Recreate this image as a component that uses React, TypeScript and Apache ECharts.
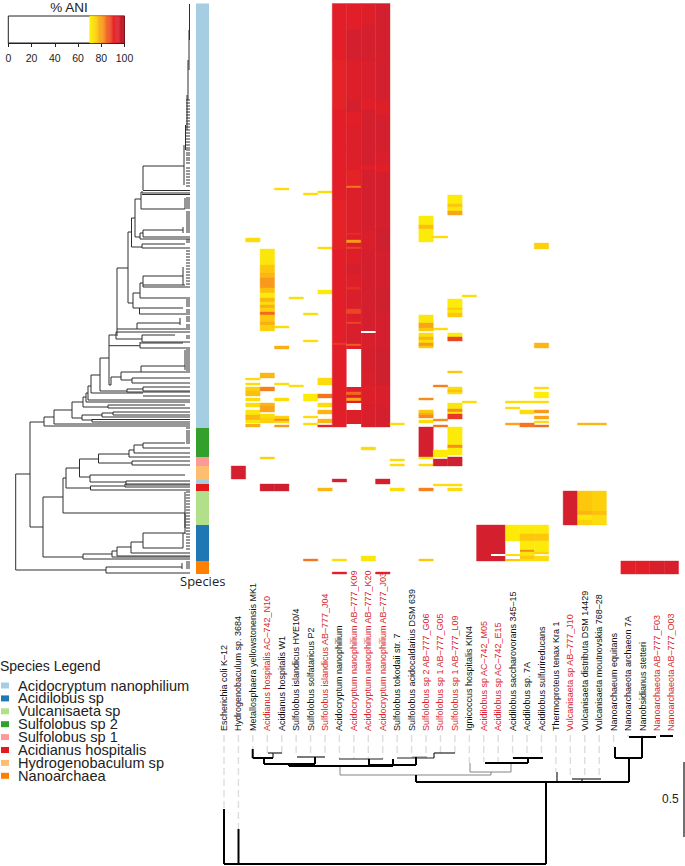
import React, { useEffect, useRef } from "react";
import * as echarts from "echarts";

const genomeNames = [
  "Escherichia coli K–12", "Hydrogenobaculum sp. 3684", "Metallosphaera yellowstonensis MK1",
  "Acidianus hospitalis AC–742_N10", "Acidianus hospitalis W1", "Sulfolobus islandicus HVE10/4",
  "Sulfolobus solfataricus P2", "Sulfolobus islandicus AB–777_J04", "Acidocryptum nanophilium",
  "Acidocryptum nanophilium AB–777_K09", "Acidocryptum nanophilium AB–777_K20", "Acidocryptum nanophilium AB–777_J03",
  "Sulfolobus tokodaii str. 7", "Sulfolobus acidocaldarius DSM 639", "Sulfolobus sp 2 AB–777_G06",
  "Sulfolobus sp 1 AB–777_G05", "Sulfolobus sp 1 AB–777_L09", "Ignicoccus hospitalis KIN4",
  "Acidilobus sp AC–742_M05", "Acidilobus sp AC–742_E15", "Acidilobus saccharovorans 345–15",
  "Acidilobus sp. 7A", "Acidilobus sulfurireducans", "Thermoproteus tenax Kra 1",
  "Vulcanisaeta sp AB–777_J10", "Vulcanisaeta distributa DSM 14429", "Vulcanisaeta moutnovskia 768–28",
  "Nanoarchaeum equitans", "Nanoarchaeota archaeon 7A", "Nanobsidianus stetteri",
  "Nanoarchaeota AB–777_F03", "Nanoarchaeota AB–777_O03",
];
const newGenomes = [3, 7, 9, 10, 11, 14, 15, 16, 18, 19, 24, 30, 31];

const speciesNames = ["Acidocryptum nanophilium", "Acidilobus sp", "Vulcanisaeta sp", "Sulfolobus sp 2", "Sulfolobus sp 1", "Acidianus hospitalis", "Hydrogenobaculum sp", "Nanoarchaea"];
const speciesColors = ["#a6cee3", "#1f78b4", "#b2df8a", "#33a02c", "#fb9a99", "#e31a1c", "#fdbf6f", "#ff7f00"];
const speciesRuns: [number, number][][] = [
  [[3.5, 428], [480, 484]], [[525, 561]], [[491, 525]], [[428, 457]], [[457, 466]], [[484, 491]], [[466, 480]], [[561, 574]],
];

const aniStops = [70, 73, 76, 80, 85, 90, 93, 97, 100];
const aniColors = ["#fff200", "#fbe60c", "#fdc70c", "#f9a51a", "#f26a21", "#e82c26", "#e21e28", "#cf2030", "#9e0b14"];
const keyLevels = [70, 71, 72, 73, 74, 75, 76, 77, 78, 79, 80, 81, 82, 83, 84, 85, 86, 87, 88, 89, 90, 91, 92, 93, 94, 95, 96, 97, 98, 99];
const keyTicks = [0, 20, 40, 60, 80, 100];

// ANI runs per genome column: [first row, last row, %ANI] (0 = below the cut-off, blank)
const col1 = [[466, 479, 96]];
const col2 = [[238, 242, 74], [378, 380, 74], [383, 385, 74], [387, 391, 75], [391, 396, 77], [398, 401, 74], [403, 407, 74], [410, 415, 73], [415, 420, 78], [420, 423, 73], [424, 427, 79]];
const col3 = [[249, 265, 73], [265, 273, 76], [273, 278, 78], [278, 288, 81], [288, 293, 77], [293, 298, 72], [298, 302, 78], [302, 305, 74], [305, 308, 79], [308, 312, 75], [312, 315, 85], [315, 322, 76], [322, 325, 79], [325, 331, 75], [373, 378, 78], [387, 391, 83], [403, 406, 78], [406, 412, 80], [414, 418, 74], [418, 423, 75], [457, 459, 75], [484, 491, 97]];
const col4 = [[188, 190, 74], [326, 328, 74], [346, 349, 79], [383, 385, 74], [398, 401, 74], [416, 419, 75], [419, 421, 82], [421, 423, 74], [425, 427, 81], [484, 491, 97]];
const col5 = [[297, 299, 74], [385, 387, 74]];
const col6 = [[193, 195, 74], [313, 315, 74], [340, 342, 74], [394, 401, 72], [416, 418, 74], [423, 425, 74], [559, 561, 84]];
const col7 = [[191, 193, 74], [247, 249, 74], [290, 294, 72], [378, 385, 74], [394, 398, 84], [403, 407, 74], [410, 414, 78], [419, 423, 78], [425, 427, 92], [488, 491, 78]];
const col8 = [[3.5, 60, 93], [60, 110, 92], [110, 150, 93], [150, 200, 93], [200, 250, 92], [250, 300, 93], [300, 343, 93], [343, 345, 89], [345, 427, 93], [479, 482, 96], [559, 561, 74], [572, 574, 93]];
const col9 = [[3.5, 30, 93], [30, 60, 96], [60, 100, 94], [100, 112, 96], [112, 125, 93], [125, 170, 94], [170, 186, 92], [186, 188, 84], [188, 233, 94], [233, 235, 90], [235, 240, 94], [240, 243, 81], [243, 247, 94], [247, 249, 88], [249, 265, 94], [265, 273, 96], [273, 287, 94], [287, 290, 90], [290, 309, 95], [309, 314, 88], [314, 322, 94], [322, 324, 88], [324, 344, 95], [344, 346, 86], [346, 349, 93], [349, 387, 0], [387, 392, 93], [392, 395, 85], [395, 398, 93], [398, 401, 80], [401, 403, 93], [403, 410, 0], [410, 424, 94], [424, 427, 0]];
const col10 = [[3.5, 25, 94], [25, 60, 96], [60, 100, 95], [100, 110, 93], [110, 165, 96], [165, 170, 93], [170, 230, 96], [230, 250, 95], [250, 331, 96], [331, 333, 0], [333, 350, 95], [350, 370, 96], [370, 385, 95], [385, 405, 94], [405, 427, 95], [447, 450, 74], [556, 561, 73]];
const col11 = [[3.5, 60, 96], [60, 100, 96], [100, 115, 94], [115, 150, 96], [150, 165, 95], [165, 172, 93], [172, 230, 96], [230, 250, 97], [250, 290, 96], [290, 310, 97], [310, 350, 96], [350, 385, 97], [385, 405, 95], [405, 427, 96], [479, 484, 96], [572, 574, 93]];
const col12 = [[423, 425, 74], [459, 461, 74], [464, 466, 74], [488, 491, 74]];
const col14 = [[216, 225, 72], [225, 229, 77], [229, 242, 72], [315, 323, 73], [323, 328, 80], [328, 331, 76], [333, 337, 74], [337, 340, 78], [340, 343, 74], [343, 346, 81], [346, 348, 76], [398, 400, 82], [410, 413, 76], [413, 415, 79], [415, 418, 82], [420, 423, 74], [427, 457, 96], [457, 459, 73], [464, 466, 74], [488, 491, 83], [559, 561, 76]];
const col15 = [[236, 238, 74], [328, 330, 74], [385, 387, 83], [419, 421, 82], [425, 427, 84], [450, 457, 72], [459, 466, 97], [484, 486, 74]];
const col16 = [[195, 204, 72], [204, 207, 76], [207, 211, 73], [211, 215, 80], [299, 308, 72], [308, 310, 76], [310, 313, 73], [313, 317, 76], [333, 337, 72], [337, 341, 88], [371, 373, 76], [387, 390, 74], [390, 392, 77], [392, 394, 74], [403, 409, 73], [409, 412, 82], [412, 414, 73], [414, 419, 89], [427, 445, 72], [445, 448, 82], [448, 455, 72], [457, 466, 97], [484, 486, 74], [488, 491, 74]];
const col17 = [[295, 297, 74], [401, 403, 74]];
const col18 = [[525, 561, 96]];
const col19 = [[525, 554, 96], [554, 556, 0], [556, 561, 96]];
const col20 = [[401, 403, 74], [407, 409, 74], [423, 425, 80], [525, 541, 72], [541, 554, 0], [554, 556, 74], [556, 559, 0], [559, 561, 76]];
const col21 = [[401, 403, 74], [410, 414, 74], [423, 427, 84], [525, 534, 72], [534, 541, 76], [541, 550, 72], [550, 552, 82], [552, 556, 73], [556, 559, 76], [559, 561, 74]];
const col22 = [[243, 249, 75], [343, 348, 78], [387, 389, 74], [392, 398, 71], [401, 403, 74], [410, 413, 81], [416, 419, 80], [421, 423, 74], [425, 427, 85], [525, 534, 72], [534, 541, 76], [541, 552, 72], [552, 554, 75], [556, 561, 74]];
const col24 = [[491, 525, 96]];
const col25 = [[423, 425, 78], [491, 511, 76], [511, 515, 78], [515, 520, 73], [520, 525, 75]];
const col26 = [[423, 425, 78], [491, 511, 75], [511, 515, 77], [515, 525, 74]];
const col28 = [[561, 574, 93]];
const col29 = [[561, 574, 93]];
const col30 = [[561, 574, 95]];
const col31 = [[561, 574, 95]];
const heatColumns: [number, number[][]][] = [[1, col1], [2, col2], [3, col3], [4, col4], [5, col5], [6, col6], [7, col7], [8, col8], [9, col9], [10, col10], [11, col11], [12, col12], [14, col14], [15, col15], [16, col16], [17, col17], [18, col18], [19, col19], [20, col20], [21, col21], [22, col22], [24, col24], [25, col25], [26, col26], [28, col28], [29, col29], [30, col30], [31, col31]];

// Genome tree: spines [distance, row top, row bottom], branches [row, distance from, distance to]
const treeSpines = [
  [15.7, 474, 570], [106, 567, 573], [182, 563, 569], [30, 422, 527], [44, 417, 426], [54, 410, 424], [72, 402, 418], [82, 415, 420], [102, 413, 417], [113, 412, 415], [92, 419, 422], [108, 405, 408],
  [83, 397, 407], [86, 393, 402], [88, 386, 400], [91, 375, 393], [100, 358, 391], [109, 335, 385], [116, 332, 339], [117, 268, 336], [128, 232, 303], [131.5, 218, 247], [135, 199, 237], [141, 192, 209], [143, 166, 190], [140, 233, 239], [143, 230, 237], [183, 227, 233], [142, 244, 248], [133, 293, 308], [140, 283, 298], [143, 276, 287], [183, 267, 285], [139.5, 308, 314], [137, 323, 329], [180, 318, 325], [142, 335, 342], [140, 342, 348],
  [111, 377, 385], [121, 372, 380], [141, 366, 372], [185, 350, 370], [132, 378, 383], [127, 389, 392], [143, 387, 391],
  [43, 497, 557], [63, 478, 513], [66, 468, 488], [79.5, 459, 477], [98.5, 454, 463], [129, 450, 457], [134, 445, 453], [143, 443, 448], [132, 461, 465], [90, 475, 482], [126, 481, 485], [90.5, 486, 490], [125, 484, 487], [83, 554, 559], [112, 551, 557], [117, 547, 556], [131, 542, 553], [143, 533, 548],
  [189.5, 4, 40], [189, 30, 70], [188, 60, 100], [187, 95, 130], [185.5, 125, 150], [184, 145, 185], [185, 198, 209], [185, 492, 534], [185, 513, 528], [183, 533, 548],
];
const treeBranches = [
  [474, 15.7, 30], [570, 15.7, 106], [567, 106, 182], [573, 106, 190], [422, 30, 44], [426, 44, 190], [417, 44, 54], [424, 54, 190], [410, 54, 72], [402, 72, 83], [418, 72, 82], [415, 82, 102], [420, 82, 92], [413, 102, 113], [417, 102, 190], [412, 113, 190], [415, 113, 190], [419.5, 92, 190], [422, 92, 190], [407, 83, 108], [405, 108, 185], [408, 108, 190], [397, 83, 86], [402, 86, 190], [393, 86, 88], [400, 88, 190], [386, 88, 91], [375, 91, 100], [393, 91, 143], [396, 143, 190],
  [358, 100, 109], [391, 100, 127], [335, 109, 116], [332, 116, 190], [339, 116, 142], [335, 142, 175], [342, 142, 190], [329, 117, 137], [323, 137, 143], [323, 143, 180], [329, 137, 190], [345.7, 109, 140], [343, 140, 183], [348, 140, 190], [268, 117, 128], [303, 128, 133], [293, 133, 140], [283, 140, 143], [276, 143, 183], [285, 143, 185], [287, 143, 190], [298, 140, 190], [308, 133, 139.5], [308, 139.5, 183], [314, 139.5, 190], [232, 128, 131.5], [218, 131.5, 135], [247, 131.5, 142], [244, 142, 185], [248, 142, 190], [199, 135, 141], [237, 135, 140], [209, 141, 185], [192, 141, 143], [190.5, 143, 190], [193, 142, 190], [194.5, 142, 190], [166, 143, 184], [233, 140, 143], [230, 143, 183], [237, 143, 190], [239, 140, 190],
  [385, 109, 111], [377, 111, 121], [372, 121, 141], [366, 141, 185], [372, 141, 190], [380, 121, 132], [378, 132, 190], [383, 132, 190], [389, 127, 143], [392, 127, 190], [387, 143, 190], [391, 143, 190],
  [527, 30, 43], [497, 43, 63], [557, 43, 83], [513, 63, 185], [478, 63, 66], [468, 66, 79.5], [488, 66, 90.5], [459, 79.5, 98.5], [477, 79.5, 90], [454, 98.5, 129], [463, 98.5, 132], [450, 129, 134], [457, 129, 190], [445, 134, 143], [453, 134, 190], [443, 143, 185], [448, 143, 190], [461, 132, 190], [465, 132, 190], [475, 90, 185], [482, 90, 126], [481, 126, 190], [485, 126, 190], [486, 90.5, 125], [484, 125, 190], [487, 125, 190], [490, 90.5, 190],
  [554, 83, 112], [559, 83, 190], [551, 112, 117], [557, 112, 190], [547, 117, 131], [556, 117, 190], [542, 131, 143], [553, 131, 190], [533, 143, 185], [548, 143, 183],
];
const twigStart = 186;
const twigRows = [100, 103, 106, 109, 112, 115, 118, 121, 124, 127, 130, 133, 136, 139, 142, 145, 148, 150, 153, 155, 158, 160, 163, 168, 171, 174, 177, 180, 183, 186, 198, 200, 202, 204, 206, 208, 212, 214, 216, 218, 220, 222, 224, 226, 228, 230, 232, 240, 242, 251, 254, 257, 260, 263, 266, 269, 272, 275, 278, 281, 284, 300, 302, 304, 306, 310, 312, 317, 319, 321, 325, 327, 336, 338, 350, 352, 354, 356, 358, 360, 362, 364, 366, 368, 370, 428, 431, 433, 435, 437, 439, 441, 443, 492, 495, 498, 501, 504, 507, 510, 513, 516, 519, 522, 525, 528, 531, 534, 537, 540, 543, 546, 549, 562, 564, 566, 568];
const twigEnd = 190;

// Taxon tree under the names: [x0, y0, x1, y1] in layout units
const taxonBold = [
  [224, 864, 546, 864], [224, 809, 224, 864], [238.5, 829, 238.5, 864], [546, 782, 546, 864], [416, 782, 629, 782], [416, 775, 416, 782], [629, 758, 629, 782], [615, 758, 642, 758], [615, 747, 615, 758], [642, 738, 642, 758], [629, 737, 656, 737], [660, 736, 673, 736],
  [289, 766, 393, 766], [264, 764, 315, 764], [252.7, 758, 273, 758], [252.7, 749, 252.7, 758], [264, 758, 264, 764], [315, 757, 315, 764], [289, 764, 289, 766], [369, 765, 416, 765], [369, 759, 369, 765], [416, 757, 416, 765], [393, 759, 393, 766], [485, 763, 528, 763], [528, 758, 528, 763], [513, 758, 543, 758],
];
const taxonMid = [[268, 753, 282, 753], [273, 753, 273, 758], [339, 759, 383, 759], [397, 758, 434, 758], [297, 757, 325, 757], [557, 772, 557, 782], [582, 779, 582, 782], [572, 779, 601, 779], [434, 753, 434, 758], [434, 753, 455, 753]];
const taxonThin = [[340, 775, 491, 775], [340, 766, 340, 775], [491, 772, 491, 775], [470, 772, 511, 772], [470, 763, 470, 772], [511, 763, 511, 772], [412, 757, 427, 757]];
const scaleBar = [[684, 762, 684, 837]];
const scaleLabel = "0.5";
const tipDepths = [809, 829, 749, 753, 753, 756, 756, 756, 759, 759, 759, 759, 757, 758, 758, 753, 753, 763, 762, 762, 758, 758, 758, 772, 779, 779, 779, 747, 737, 737, 736, 736];

function aniColor(v: number): string {
  if (v < 70) return "#ffffff";
  for (let i = 0; i < aniStops.length - 1; i++) {
    if (v <= aniStops[i + 1]) {
      const t = (v - aniStops[i]) / (aniStops[i + 1] - aniStops[i]);
      return echarts.color.lerp(t, [aniColors[i], aniColors[i + 1]]) as string;
    }
  }
  return aniColors[aniColors.length - 1];
}

const segmentSeries = (grid: number, data: number[][], stroke: string, lineWidth: number, extra: any = {}) => ({
  type: "custom",
  silent: true,
  clip: false,
  xAxisIndex: grid,
  yAxisIndex: grid,
  data,
  encode: { x: [0, 2], y: [1, 3] },
  renderItem: (_: any, api: any) => {
    const a = api.coord([api.value(0), api.value(1)]);
    const b = api.coord([api.value(2), api.value(3)]);
    return { type: "line", shape: { x1: a[0], y1: a[1], x2: b[0], y2: b[1] }, style: { stroke, lineWidth, ...extra } };
  },
});

export default function App() {
  const ref = useRef<HTMLDivElement>(null);
  useEffect(() => {
    document.body.style.margin = "0";
    const chart = echarts.init(ref.current!, null, { renderer: "svg" });

    const heatData: number[][] = [];
    heatColumns.forEach(([c, runs]) => runs.forEach((r) => heatData.push([c, r[0], r[1], r[2]])));
    const treeData: number[][] = [
      ...treeSpines.map((s) => [s[0], s[1], s[0], s[2]]),
      ...treeBranches.map((b) => [b[1], b[0], b[2], b[0]]),
      ...twigRows.map((y) => [twigStart, y, twigEnd, y]),
    ];
    const guideData = tipDepths.map((y, i) => [224 + 14.43 * i, 735, 224 + 14.43 * i, y]);
    const hiddenAxis = { show: false };

    const labels = genomeNames.map((n, i) => ({
      value: n,
      textStyle: { color: newGenomes.includes(i) ? "#d8262c" : "#111111" },
    }));

    const titleText = (fontFamily: string, fontSize: number) => ({ fontFamily, fontSize, fontWeight: "normal", color: "#222" });

    const option: any = {
      animation: false,
      backgroundColor: "#ffffff",
      title: [
        { text: "% ANI", left: 69, top: 0, padding: 0, textAlign: "center", textStyle: titleText("Liberation Sans", 13.5) },
        { text: "Species Legend", left: 0, top: 659, padding: 0, textStyle: titleText("Liberation Sans", 14) },
        { text: "Species", left: 180, top: 574, padding: 0, textStyle: titleText("Open Sans", 13) },
        { text: scaleLabel, left: 662, top: 793, padding: 0, textStyle: titleText("Liberation Sans", 12) },
      ],
      legend: {
        data: speciesNames,
        orient: "vertical",
        left: 1,
        top: 678,
        padding: 0,
        itemWidth: 8,
        itemHeight: 6,
        itemGap: -2.1,
        icon: "rect",
        selectedMode: false,
        textStyle: { fontFamily: "Liberation Sans", fontSize: 14.6, color: "#222", lineHeight: 12, padding: [0, 0, 0, 4] },
      },
      grid: [
        { left: 216.8, top: 4, width: 461.8, height: 570 },
        { left: 0, top: 4, width: 215, height: 570 },
        { left: 196, top: 4, width: 13, height: 570 },
        { left: 0, top: 733, width: 685, height: 133 },
        { left: 216.8, top: 733, width: 461.8, height: 1 },
        { left: 8.3, top: 16, width: 116.2, height: 27, show: true, borderColor: "#222", borderWidth: 1, backgroundColor: "#fff" },
      ],
      xAxis: [
        { gridIndex: 0, type: "value", min: -0.5, max: 31.5, ...hiddenAxis },
        { gridIndex: 1, type: "value", min: 0, max: 215, ...hiddenAxis },
        { gridIndex: 2, type: "value", min: 0, max: 1, ...hiddenAxis },
        { gridIndex: 3, type: "value", min: 0, max: 685, ...hiddenAxis },
        {
          gridIndex: 4, type: "category", position: "top", data: labels, boundaryGap: true,
          axisLine: { show: false }, axisTick: { show: false },
          axisLabel: { rotate: 90, interval: 0, margin: 2, fontFamily: "Liberation Sans", fontSize: 9 },
        },
        {
          gridIndex: 5, type: "value", min: 0, max: 100, interval: 20, position: "bottom",
          splitLine: { show: false },
          axisLine: { show: true, lineStyle: { color: "#222" } },
          axisTick: { show: true, length: 4, lineStyle: { color: "#222" } },
          axisLabel: { margin: 9, fontFamily: "Liberation Sans", fontSize: 10.5, color: "#222", customValues: keyTicks },
        },
      ],
      yAxis: [
        { gridIndex: 0, type: "value", min: 4, max: 574, inverse: true, ...hiddenAxis },
        { gridIndex: 1, type: "value", min: 4, max: 574, inverse: true, ...hiddenAxis },
        { gridIndex: 2, type: "value", min: 4, max: 574, inverse: true, ...hiddenAxis },
        { gridIndex: 3, type: "value", min: 733, max: 866, inverse: true, ...hiddenAxis },
        { gridIndex: 4, type: "value", ...hiddenAxis },
        { gridIndex: 5, type: "value", min: 0, max: 1, ...hiddenAxis },
      ],
      series: [
        {
          type: "custom", silent: true, clip: false, xAxisIndex: 0, yAxisIndex: 0, data: heatData,
          encode: { x: 0, y: [1, 2] },
          renderItem: (_: any, api: any) => {
            const c = api.value(0);
            const a = api.coord([c - 0.5, api.value(1)]);
            const b = api.coord([c + 0.5, api.value(2)]);
            const v = api.value(3);
            const fill = aniColor(v);
            return {
              type: "rect", z2: v === 0 ? 2 : 1,
              shape: { x: a[0], y: a[1], width: b[0] - a[0], height: b[1] - a[1] },
              style: v === 0 ? { fill } : { fill, stroke: fill, lineWidth: 0.4 },
            };
          },
        },
        segmentSeries(1, treeData, "#2e2e2e", 1),
        ...speciesNames.map((name, i) => ({
          name, type: "custom", silent: true, clip: false, xAxisIndex: 2, yAxisIndex: 2,
          itemStyle: { color: speciesColors[i] },
          data: speciesRuns[i],
          encode: { y: [0, 1] },
          renderItem: (_: any, api: any) => {
            const a = api.coord([0, api.value(0)]);
            const b = api.coord([1, api.value(1)]);
            return { type: "rect", shape: { x: a[0], y: a[1], width: b[0] - a[0], height: b[1] - a[1] }, style: { fill: speciesColors[i] } };
          },
        })),
        segmentSeries(3, guideData, "#dddddd", 1.4, { lineDash: [7, 4] }),
        segmentSeries(3, taxonThin, "#777777", 0.9),
        segmentSeries(3, taxonMid, "#222222", 1.2),
        segmentSeries(3, taxonBold, "#000000", 2),
        segmentSeries(3, scaleBar, "#111111", 1.2),
        {
          type: "custom", silent: true, clip: false, xAxisIndex: 5, yAxisIndex: 5,
          data: keyLevels.map((v) => [v]),
          encode: { x: 0 },
          renderItem: (_: any, api: any) => {
            const v = api.value(0);
            const a = api.coord([v, 1]);
            const b = api.coord([v + 1, 0]);
            const fill = aniColor(v + 0.5);
            return { type: "rect", shape: { x: a[0], y: a[1], width: b[0] - a[0], height: b[1] - a[1] }, style: { fill, stroke: fill, lineWidth: 0.4 } };
          },
        },
      ],
    };
    chart.setOption(option);
    return () => chart.dispose();
  }, []);
  return <div ref={ref} style={{ position: "absolute", left: 0, top: 0, width: 685, height: 866 }} />;
}
